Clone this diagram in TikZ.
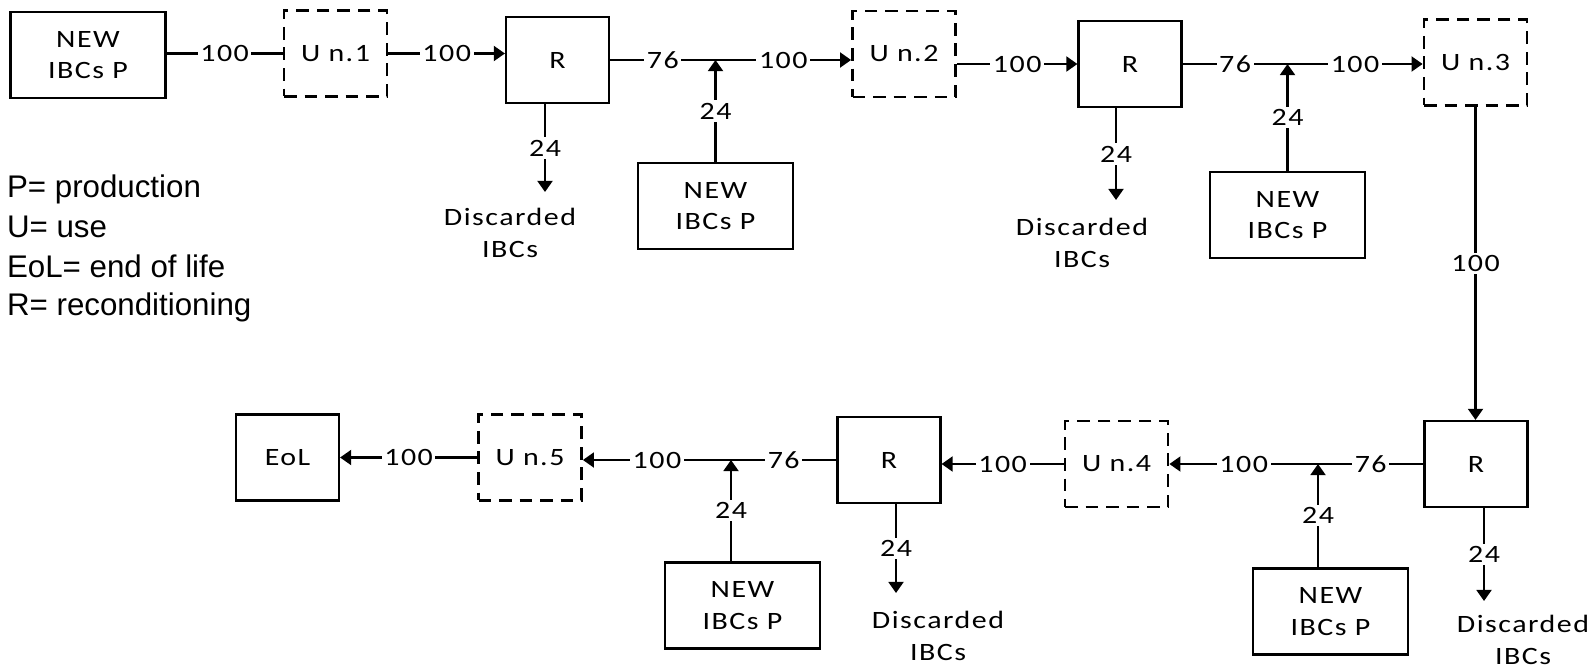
\documentclass[tikz,border=0pt]{standalone}
\usepackage{fontspec}
\setmainfont{Carlito}[FakeStretch=1.2,LetterSpace=6]
\newfontfamily\legendfont{Liberation Sans}
\usetikzlibrary{arrows.meta, positioning}

\begin{document}
\begin{tikzpicture}[
    x=0.02cm, y=-0.02cm,
    >={Triangle[width=8.5pt,length=6.3pt]},
    every node/.style={font=\fontsize{14.2pt}{18pt}\selectfont},
    line width=1.25pt,
    box/.style={draw, minimum height=1.72cm, align=center, inner sep=2pt},
    newbox/.style={box, minimum width=3.1cm},
    rbox/.style={box, minimum width=2.06cm},
    ubox/.style={rbox, line width=1.6pt, dash pattern=on 7.2pt off 4.5pt},
    num/.style={fill=white, inner sep=1.5pt},
    waste/.style={align=center, inner sep=2pt},
]
\useasboundingbox (0,0) rectangle (1591,672);
% legend
\foreach \i/\txt/\yb in {1/P= production/197, 2/U= use/237, 3/EoL= end of life/277, 4/R= reconditioning/315}
   \node[anchor=base west, inner sep=0pt, font=\legendfont\fontsize{17.8pt}{20pt}\selectfont] (leg\i) at (6,\yb) {\txt};

% first row: P -> U n.1 -> R -> U n.2 -> R -> U n.3
\node[newbox] (new1) at (88,55) {NEW\\IBCs P};
\node[ubox] (u1) at (335.5,53.5) {U n.1};
\node[rbox] (r1) at (557.5,60) {R};
\node[newbox] (new2) at (715.5,206) {NEW\\IBCs P};
\node[ubox] (u2) at (904,54) {U n.2};
\node[rbox] (r2) at (1130,64) {R};
\node[newbox] (new3) at (1287.5,215) {NEW\\IBCs P};
\node[ubox] (u3) at (1475.5,62.5) {U n.3};

% second row, right to left: R -> U n.4 -> R -> U n.5 -> EoL
\node[rbox] (r3) at (1476,464) {R};
\node[ubox] (u4) at (1116.5,464) {U n.4};
\node[newbox] (new4) at (1330.5,611.5) {NEW\\IBCs P};
\node[rbox] (r4) at (889,460) {R};
\node[newbox] (new5) at (742.5,605.5) {NEW\\IBCs P};
\node[ubox] (u5) at (530,457.5) {U n.5};
\node[rbox] (eol) at (287.5,457.5) {EoL};

% junctions where new IBCs join the flow
\coordinate (j2) at (new2.north |- r1.east);
\coordinate (j3) at (new3.north |- r2.east);
\coordinate (j4) at (1318,464);
\coordinate (j5) at (731,460);

% flows of the first row
\draw (new1.east |- u1.west) -- node[num]{100} (u1.west);
\draw[->] (u1.east) -- node[num]{100} (u1.east -| r1.west);
\draw (r1.east) -- node[num]{76} (j2);
\draw[->] (j2) -- node[num]{100} (j2 -| u2.west);
\draw[->] (new2.north) -- node[num]{24} (j2);
\draw[->] (r2.west -| u2.east) -- node[num]{100} (r2.west);
\draw (r2.east) -- node[num]{76} (j3);
\draw[->] (j3) -- node[num]{100} (j3 -| u3.west);
\draw[->] (new3.north) -- node[num]{24} (j3);

% down to the second row
\draw[->] (u3.south) -- node[num]{100} (u3.south |- r3.north);

% flows of the second row
\draw (r3.west) -- node[num]{76} (j4);
\draw[->] (j4) -- node[num]{100} (j4 -| u4.east);
\draw[->] (new4.north -| j4) -- node[num]{24} (j4);
\draw[->] (u4.west) -- node[num]{100} (u4.west -| r4.east);
\draw (r4.west) -- node[num]{76} (j5);
\draw[->] (j5) -- node[num]{100} (j5 -| u5.east);
\draw[->] (new5.north -| j5) -- node[num]{24} (j5);
\draw[->] (u5.west) -- node[num]{100} (u5.west -| eol.east);

% discarded IBCs after each reconditioning
\coordinate (t1) at (545,192);
\coordinate (t2) at (1116,200);
\coordinate (t3) at (1484,601);
\coordinate (t4) at (896,593);
\draw[->] (r1.south -| t1) -- node[num]{24} (t1);
\draw[->] (r2.south -| t2) -- node[num]{24} (t2);
\draw[->] (r3.south -| t3) -- node[num]{24} (t3);
\draw[->] (r4.south -| t4) -- node[num]{24} (t4);
\node[waste, below=0.24cm of t1, xshift=-0.7cm] (dis1) {Discarded\\IBCs};
\node[waste, below=0.28cm of t2, xshift=-0.68cm] (dis2) {Discarded\\IBCs};
\node[waste, below=0.2cm of t3, xshift=0.78cm] (dis3) {Discarded\\IBCs};
\node[waste, below=0.28cm of t4, xshift=0.84cm] (dis4) {Discarded\\IBCs};
\end{tikzpicture}
\end{document}
